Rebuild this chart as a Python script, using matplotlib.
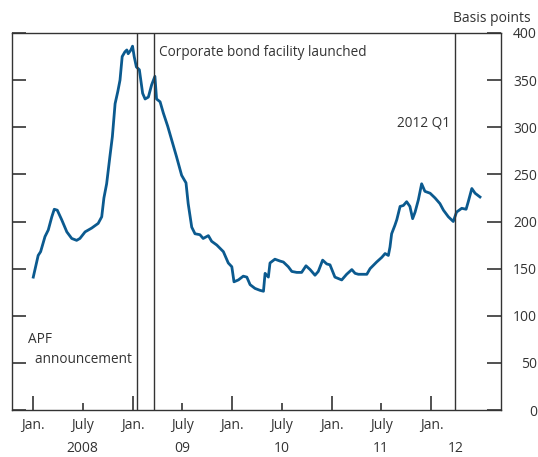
import matplotlib
matplotlib.use("Agg")
import matplotlib.pyplot as plt
import matplotlib.dates as mdates
import matplotlib.transforms as mtransforms
import numpy as np
import pandas as pd

plt.rcParams['font.family'] = ['Open Sans', 'DejaVu Sans']

dates = [
    "2008-01-02", "2008-01-20", "2008-01-29", "2008-02-14", "2008-02-26", "2008-03-10",
    "2008-03-19", "2008-03-30", "2008-04-15", "2008-05-04", "2008-05-22", "2008-06-09",
    "2008-06-21", "2008-07-10", "2008-08-03", "2008-08-27", "2008-09-09", "2008-09-17",
    "2008-09-27", "2008-10-09", "2008-10-18", "2008-10-28", "2008-11-07", "2008-11-15",
    "2008-11-23", "2008-12-03", "2008-12-10", "2008-12-15", "2008-12-25", "2008-12-31",
    "2009-01-06", "2009-01-14", "2009-01-25", "2009-02-06", "2009-02-15", "2009-02-27",
    "2009-03-11", "2009-03-23", "2009-03-29", "2009-04-11", "2009-04-23", "2009-05-09",
    "2009-05-24", "2009-06-10", "2009-06-29", "2009-07-15", "2009-07-23", "2009-08-05",
    "2009-08-17", "2009-09-04", "2009-09-16", "2009-10-05", "2009-10-17", "2009-11-05",
    "2009-11-29", "2009-12-17", "2009-12-30", "2010-01-07", "2010-01-23", "2010-02-10",
    "2010-02-23", "2010-03-07", "2010-03-25", "2010-04-12", "2010-04-25", "2010-05-01",
    "2010-05-13", "2010-05-19", "2010-06-06", "2010-06-25", "2010-07-07", "2010-07-25",
    "2010-08-07", "2010-08-25", "2010-09-12", "2010-09-28", "2010-10-13", "2010-10-31",
    "2010-11-12", "2010-11-28", "2010-12-13", "2010-12-25", "2011-01-12", "2011-02-06",
    "2011-02-24", "2011-03-15", "2011-03-27", "2011-04-08", "2011-05-09", "2011-05-21",
    "2011-06-14", "2011-07-03", "2011-07-15", "2011-07-27", "2011-08-02", "2011-08-08",
    "2011-08-20", "2011-08-27", "2011-09-08", "2011-09-20", "2011-10-02", "2011-10-14",
    "2011-10-24", "2011-11-02", "2011-11-14", "2011-11-26", "2011-12-08", "2011-12-27",
    "2012-01-14", "2012-02-01", "2012-02-14", "2012-03-03", "2012-03-21", "2012-04-02",
    "2012-04-21", "2012-05-07", "2012-05-15", "2012-05-28", "2012-06-09", "2012-06-27",
]
spread_bp = [
    141, 164, 168, 184, 191, 205,
    213, 212, 202, 189, 182, 180,
    182, 189, 193, 198, 205, 225,
    240, 269, 290, 325, 338, 350,
    375, 380, 382, 378, 382, 386,
    375, 364, 361, 336, 330, 332,
    345, 354, 330, 327, 315, 301,
    286, 269, 249, 241, 219, 194,
    187, 186, 182, 185, 179, 175,
    168, 156, 152, 136, 138, 142,
    141, 133, 129, 127, 126, 145,
    141, 156, 160, 158, 157, 152,
    147, 146, 146, 153, 149, 143,
    147, 159, 155, 154, 141, 138,
    144, 149, 145, 144, 144, 150,
    157, 162, 166, 164, 173, 187,
    196, 202, 216, 217, 221, 216,
    203, 210, 223, 240, 232, 230,
    225, 219, 212, 205, 200, 210,
    214, 213, 221, 235, 230, 226,
]

event_dates = ["2009-01-17", "2009-03-21", "2012-03-26"]
event_labels = ["APF\n  announcement", "Corporate bond facility launched", "2012 Q1"]

year_labels = ["2008", "09", "10", "11", "12"]
year_label_dates = ["2008-07-01", "2009-07-01", "2010-07-01", "2011-07-01", "2012-03-31"]

jan_ticks = ["2008-01-01", "2009-01-01", "2010-01-01", "2011-01-01", "2012-01-01"]
july_ticks = ["2008-07-01", "2009-07-01", "2010-07-01", "2011-07-01"]

y_ticks = [0, 50, 100, 150, 200, 250, 300, 350, 400]

x = pd.to_datetime(dates)
ev = pd.to_datetime(event_dates)

fig = plt.figure(figsize=(5.38, 4.57), dpi=100)
ax = fig.add_axes([12/538, 1-410/457, (501-12)/538, (410-33)/457])

line_color = '#0b5a8f'
ax.plot(x, spread_bp, color=line_color, lw=2.0, solid_joinstyle='round')

for d in ev:
    ax.axvline(d, color='#333333', lw=1.0)

ax.set_xlim(pd.Timestamp("2007-10-16"), pd.Timestamp("2012-09-12"))
ax.set_ylim(0, 400)

for s in ax.spines.values():
    s.set_color('#333333')
    s.set_linewidth(1.0)

# y axis: ticks on both sides, labels on right
ax.set_yticks(y_ticks)
ax.tick_params(axis='y', which='major', direction='in', length=10, width=1.2,
               colors='#333333', left=True, right=True, labelleft=False, labelright=True,
               labelsize=10, pad=26, labelcolor='#333333')
for lbl in ax.get_yticklabels():
    lbl.set_horizontalalignment('right')

# x axis
ax.set_xticks(pd.to_datetime(jan_ticks))
ax.set_xticklabels(["Jan."] * len(jan_ticks))
ax.set_xticks(pd.to_datetime(july_ticks), minor=True)
ax.set_xticklabels(["July"] * len(july_ticks), minor=True)
ax.tick_params(axis='x', which='major', direction='in', length=10, width=1.2,
               colors='#333333', labelsize=10, pad=6, labelcolor='#333333')
ax.tick_params(axis='x', which='minor', direction='in', length=5, width=1.2,
               colors='#333333', labelsize=10, pad=6, labelcolor='#333333')

trans = mtransforms.blended_transform_factory(ax.transData, ax.transAxes)
for lab, d in zip(year_labels, pd.to_datetime(year_label_dates)):
    ax.text(d, -0.103, lab, transform=trans, ha='center', va='center',
            fontsize=10, color='#333333')

# event annotations
ax.text(ev[1] + pd.Timedelta(days=18), 0.948, event_labels[1], transform=trans,
        ha='left', va='center', fontsize=9.8, color='#333333')
ax.text(ev[2] - pd.Timedelta(days=15), 0.76, event_labels[2], transform=trans,
        ha='right', va='center', fontsize=9.8, color='#333333')
ax.text(pd.Timestamp("2007-12-15"), 0.16, event_labels[0], transform=trans,
        ha='left', va='center', fontsize=9.8, color='#333333', linespacing=1.45)

fig.text(531/538, 1-19/457, "Basis points", ha='right', va='center',
         fontsize=10, color='#333333')

fig.savefig("out.png", dpi=100)
